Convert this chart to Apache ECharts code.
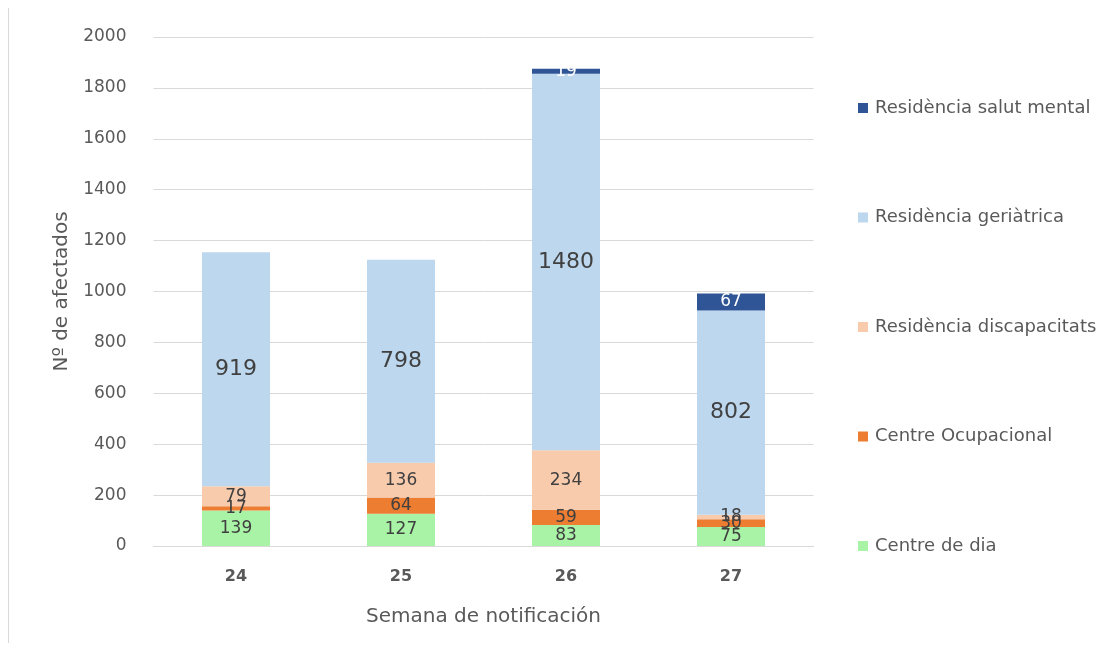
<!DOCTYPE html>
<html><head><meta charset="utf-8">
<script src="https://cdn.jsdelivr.net/npm/echarts@6/dist/echarts.min.js"></script>
<style>html,body{margin:0;padding:0;background:#fff}#c{width:1113px;height:651px}</style>
</head><body><div id="c"></div>
<script>
const categories = ['24','25','26','27'];
const centreDia = [139,127,83,75];
const centreOcupacional = [17,64,59,30];
const residenciaDiscapacitats = [79,136,234,18];
const residenciaGeriatrica = [919,798,1480,802];
const residenciaSalutMental = [0,0,19,67];
const yTicks = {min:0,max:2000,interval:200};

const FONT = '"DejaVu Sans", sans-serif';
const chart = echarts.init(document.getElementById('c'));
function ser(name, data, color, labelColor, labelSize){
  return {name, type:'bar', stack:'a', data, barWidth:68,
    itemStyle:{color},
    label:{show:true, position:'inside', color:labelColor, fontSize:labelSize, fontFamily:FONT,
      formatter:p=> p.value>0 ? p.value : ''}};
}
chart.setOption({
  animation:false,
  textStyle:{fontFamily:FONT},
  grid:{left:153.5, width:660, top:37, height:509},
  xAxis:{type:'category', data:categories,
    axisLine:{lineStyle:{color:'#d9d9d9'}}, axisTick:{show:false},
    axisLabel:{color:'#595959', fontWeight:'bold', fontSize:16, margin:23, fontFamily:FONT},
    name:'Semana de notificación', nameLocation:'middle', nameGap:61,
    nameTextStyle:{color:'#595959', fontSize:20, fontFamily:FONT}},
  yAxis:{type:'value', min:yTicks.min, max:yTicks.max, interval:yTicks.interval,
    axisLine:{show:false}, axisTick:{show:false},
    splitLine:{lineStyle:{color:'#d9d9d9'}},
    axisLabel:{color:'#595959', fontSize:17, margin:27, fontFamily:FONT, formatter:v=>String(v)},
    name:'Nº de afectados', nameLocation:'middle', nameGap:82,
    nameTextStyle:{color:'#595959', fontSize:20, fontFamily:FONT}},
  legend:{orient:'vertical', left:853, top:93, itemWidth:10, itemHeight:10, itemGap:89.5,
    icon:'rect',
    data:['Residència salut mental','Residència geriàtrica','Residència discapacitats','Centre Ocupacional','Centre de dia'],
    textStyle:{color:'#595959', fontSize:18, lineHeight:20, fontFamily:FONT, padding:[0,0,0,2]}},
  graphic:[{type:'line', shape:{x1:8.5,y1:8,x2:8.5,y2:643}, style:{stroke:'#d9d9d9', lineWidth:1}}],
  series:[
    ser('Centre de dia', centreDia, '#A9F3A6', '#404040', 17),
    ser('Centre Ocupacional', centreOcupacional, '#ED7D31', '#404040', 17),
    ser('Residència discapacitats', residenciaDiscapacitats, '#F8CBAD', '#404040', 17),
    ser('Residència geriàtrica', residenciaGeriatrica, '#BDD7EE', '#404040', 22),
    ser('Residència salut mental', residenciaSalutMental, '#2F5597', '#ffffff', 17)
  ]
});
</script></body></html>
